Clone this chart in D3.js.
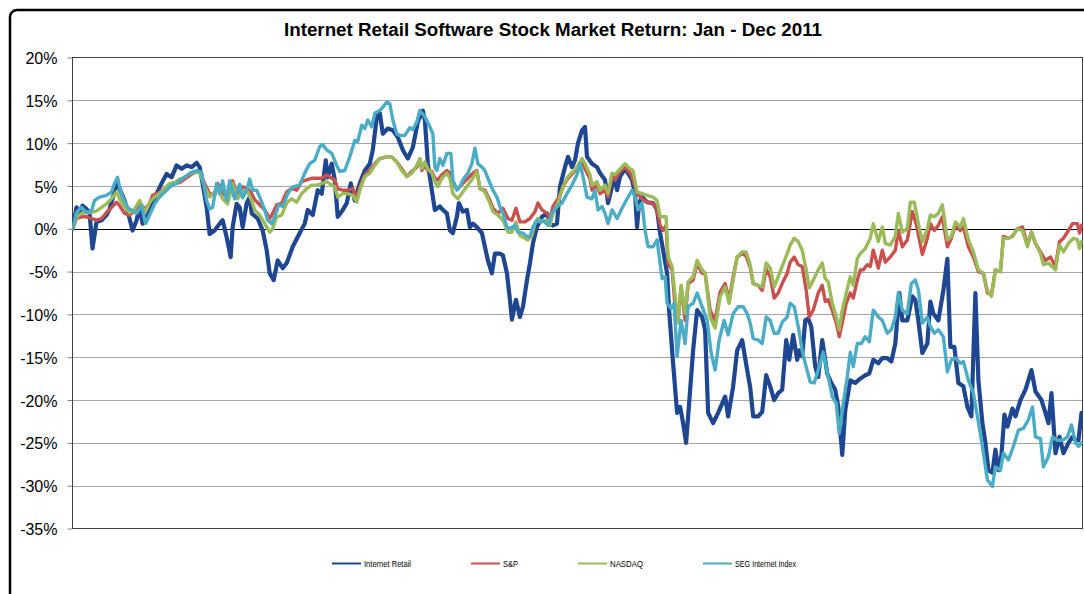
<!DOCTYPE html>
<html><head><meta charset="utf-8">
<script src="https://cdn.jsdelivr.net/npm/d3@7/dist/d3.min.js"></script>
<style>body{margin:0;background:#fff;}svg{display:block;font-family:Arial,"Liberation Sans",sans-serif;}</style>
</head><body>
<svg id="chart" width="1084" height="594"></svg>
<script>
// x = trading-session index in 2011, y = cumulative return in %
const internetRetail = [[0,0],[1,2.5],[1.75,1.9],[2.5,2.7],[3.5,2.3],[4.25,1.9],[5,-2.3],[6,0.8],[7.25,1.0],[8.5,1.6],[9.25,2.3],[10,3.5],[11,5.3],[11.75,4.7],[13,3.3],[13.75,2.1],[15,-0.2],[16,1.0],[16.75,2.5],[17.5,0.6],[18.5,1.4],[19.75,2.5],[21,4.1],[22.25,5.3],[23.5,6.4],[24.75,6.0],[26,7.4],[27.25,7.0],[28.5,7.4],[29.75,7.2],[31,7.7],[31.75,7.2],[32.5,5.3],[33.5,2.5],[34.25,-0.6],[35.5,-0.2],[36.75,0.6],[37.5,1.0],[38.5,-1.0],[39.5,-3.3],[40,0.2],[41,2.9],[41.75,2.5],[42.5,0.2],[43.5,3.0],[44.25,3.7],[44.75,1.8],[46.25,1.2],[47.5,-0.2],[48.5,-2.5],[49.25,-5.2],[50.25,-6.0],[51.25,-3.7],[52.5,-4.6],[53.5,-4.0],[55,-2.1],[56.75,-0.5],[58,0.6],[58.75,2.2],[60,1.6],[61.25,4.5],[62.25,4.1],[63.25,8.0],[63.75,6.0],[64.75,7.6],[65.5,5.7],[66.25,1.4],[67.5,2.2],[68.5,3.0],[69.5,5.3],[70.5,3.3],[71.75,5.3],[73,6.8],[74.25,7.6],[75,9.2],[76,13.0],[76.75,13.5],[77.5,11.1],[78.75,11.7],[80,11.5],[81.25,10.7],[82.5,9.2],[83.75,8.2],[85,9.5],[86.25,12.5],[87.5,13.8],[88,12.7],[88.75,7.6],[89.75,4.5],[90.5,2.2],[91.75,2.6],[92.5,2.2],[93.5,1.8],[94.25,-0.2],[95,-0.5],[96,1.4],[96.5,3.0],[97.5,2.0],[98.5,2.2],[99.25,0.2],[100,0.6],[101,0.2],[102.25,-0.5],[103,-2.1],[103.75,-3.7],[104.75,-5.2],[105.5,-2.9],[106.75,-2.9],[107.5,-3.1],[108.5,-5.2],[109.25,-8.3],[109.75,-10.6],[110.75,-8.3],[111.75,-10.3],[112.5,-9.1],[113.5,-6.0],[114.25,-4.0],[115,-1.7],[116,0.2],[117.25,1.4],[118.5,1.8],[119.25,0.6],[120,0.4],[121,0.6],[121.75,4.9],[123,7.2],[123.75,8.4],[124.75,7.2],[125.5,8.0],[126.25,10.0],[127.25,11.5],[128,11.9],[128.5,8.4],[129.75,7.6],[131,7.2],[131.75,6.5],[133,5.7],[133.75,3.0],[134.75,4.9],[135.5,6.1],[136,4.5],[136.75,6.1],[138,7.0],[138.75,6.5],[139.75,5.7],[140.5,4.1],[141,0.2],[141.5,3.0],[142.25,3.7],[143.5,3.1],[145,3.0],[146,2.2],[146.75,-0.5],[147.5,-2.5],[148.5,-5.2],[149,-9.5],[150,-15.7],[151,-21.5],[151.75,-20.8],[152.5,-22.7],[153.25,-25.0],[154,-20.4],[155,-14.2],[156,-9.5],[157.25,-10.3],[158,-11.8],[158.75,-21.5],[160,-22.7],[161.25,-21.5],[163,-19.6],[163.75,-21.9],[165,-18.4],[166,-14.2],[167.25,-13.0],[168.5,-16.5],[169.25,-18.5],[170,-21.9],[171.25,-21.9],[172.25,-21.4],[173.25,-17.1],[174.25,-18.4],[175.25,-20.0],[176.25,-19.2],[177.25,-18.8],[178.25,-13.0],[179,-15.3],[180,-12.4],[181,-15.3],[181.5,-14.2],[182.25,-14.9],[183,-10.7],[183.75,-10.5],[184.5,-11.4],[185.5,-16.1],[186.25,-17.3],[187.25,-13.0],[188.5,-16.9],[189.5,-18.0],[190.5,-18.8],[191.25,-20.8],[192.25,-26.4],[193,-21.2],[194.25,-17.7],[195.5,-18.0],[196.75,-17.5],[198,-17.1],[199,-16.9],[200,-15.3],[201.25,-15.7],[202.25,-15.1],[203.5,-15.1],[204.5,-15.5],[205.5,-13.4],[206.5,-7.5],[207.25,-10.7],[208.5,-10.7],[209.75,-7.9],[210.5,-8.3],[211.25,-10.7],[212.25,-14.5],[213.5,-13.4],[214.25,-8.5],[215,-9.9],[216.25,-10.7],[217.5,-7.2],[218.5,-3.5],[219.25,-13.8],[220.25,-13.8],[221.25,-18.0],[222.5,-18.4],[223.5,-20.8],[224.5,-21.9],[225.5,-7.5],[226.25,-17.7],[227.25,-22.7],[228,-25.0],[228.75,-28.2],[229.75,-28.5],[230.5,-25.8],[231.25,-28.2],[232,-26.5],[232.75,-21.7],[233.5,-23.1],[234.75,-21.0],[235.5,-21.9],[236.75,-20.0],[238,-18.8],[239.5,-16.5],[240.5,-19.0],[242,-20.0],[243,-21.5],[243.75,-22.7],[244.5,-19.2],[245.5,-26.2],[246.5,-24.3],[247.5,-26.2],[248.75,-25.0],[249.75,-24.3],[250.5,-24.7],[251.25,-24.7],[252,-21.5]];

const sp500 = [[0,0],[1,1.2],[2.25,1.4],[3.5,1.4],[4.75,1.2],[6,1.0],[7.25,1.2],[8.5,1.9],[9.75,2.5],[11,3.1],[11.75,2.7],[13,1.8],[14.25,1.6],[15.5,2.1],[16.75,3.1],[18,2.3],[19.25,2.9],[20,3.9],[21.25,4.1],[22.5,4.5],[24.25,4.9],[25.5,5.3],[26.75,5.4],[28,5.8],[29.25,6.2],[30.5,6.6],[31.75,6.6],[33,5.3],[34.25,4.1],[35.5,3.9],[36.25,5.3],[37.5,4.1],[38.75,3.7],[40,5.6],[41.25,3.9],[42.5,4.9],[43.75,4.7],[44.75,4.1],[45.5,3.4],[46.75,2.8],[48,2.2],[49.25,1.2],[50,1.8],[51,2.8],[52.25,3.0],[53.5,4.3],[54.75,4.7],[56,4.5],[57.25,5.5],[58.5,5.7],[59.75,5.9],[61,5.9],[62.25,5.9],[63.5,6.3],[64.75,5.9],[65.5,5.7],[66.25,4.7],[67.5,4.5],[68.75,4.5],[70,4.7],[71,3.5],[71.75,4.9],[73,6.3],[74.25,6.8],[75.5,7.6],[76.75,8.2],[78.5,8.4],[79.75,8.4],[81,7.8],[82.25,7.0],[83.5,6.1],[84.75,6.7],[86,7.2],[86.75,8.1],[87.25,6.8],[88,7.4],[88.75,6.8],[89.75,6.7],[90.5,5.9],[91.25,5.7],[92.25,6.3],[93.5,6.8],[94.25,6.5],[95,5.1],[96.25,4.7],[97.5,5.3],[98.75,5.9],[100,6.5],[101,6.8],[101.75,4.7],[103,4.5],[104.25,3.3],[105,2.4],[106.25,1.8],[107.5,2.4],[108.75,1.2],[109.75,1.0],[110.75,2.4],[111.75,0.8],[113,0.8],[114.25,1.2],[115.5,2.0],[116.25,3.0],[117.25,2.2],[118.5,1.8],[119.25,1.2],[120,2.6],[121.25,3.5],[122.5,4.9],[123.75,5.9],[125,6.5],[126.25,7.2],[127.25,7.8],[128,7.0],[129.25,5.8],[129.75,4.5],[131,5.1],[131.75,4.1],[133,4.5],[133.75,3.7],[134.75,6.1],[135.5,5.7],[136.75,6.7],[138,7.2],[139.25,6.5],[140,5.7],[141,4.1],[142.25,3.5],[143.5,3.1],[145,3.0],[146,2.2],[146.75,0.4],[147.5,-0.2],[148.25,0.4],[148.75,-4.1],[149.75,-4.8],[150.5,-9.1],[151.25,-10.7],[152,-6.8],[153,-10.7],[153.75,-6.4],[155,-6.0],[156,-4.1],[157.25,-5.2],[158,-5.2],[159.25,-9.5],[160.5,-10.7],[161.75,-7.4],[163,-6.4],[164,-8.3],[165,-5.6],[166,-3.3],[167.25,-2.9],[168.25,-3.2],[169.25,-4.5],[170,-6.4],[171.25,-6.6],[172.25,-7.2],[173.25,-4.7],[174.25,-5.6],[175.25,-8.1],[176.25,-7.5],[177.25,-6.4],[178.5,-5.2],[179.25,-3.9],[180.25,-3.3],[181.25,-4.2],[182.25,-4.4],[183.25,-7.2],[184,-10.3],[185,-9.5],[186.25,-7.5],[187.25,-6.6],[188,-8.5],[188.75,-8.3],[189.75,-9.5],[190.75,-11.0],[191.5,-12.6],[192.25,-11.0],[193.25,-8.7],[194.25,-7.5],[195,-8.1],[196,-6.0],[196.75,-4.8],[197.5,-4.8],[198.5,-4.2],[199.25,-4.4],[200,-2.5],[201.25,-4.6],[202.25,-2.5],[203,-3.9],[204.25,-3.3],[205.5,-2.5],[206.25,-0.2],[207.25,-2.1],[208.5,-1.3],[209.75,2.0],[210.75,0.5],[212.25,-3.0],[213.5,-1.1],[214.25,0.6],[215.25,-0.2],[216.25,0.4],[217.25,1.4],[218.5,-2.1],[219.5,-1.1],[220.5,0.4],[221.75,-0.2],[222.5,0.2],[223.75,-2.1],[225,-3.3],[226.25,-5.0],[227.5,-5.2],[228.5,-7.5],[229.5,-7.7],[230.5,-4.8],[231.75,-5.0],[232.5,-0.9],[233.75,-1.1],[234.75,-0.9],[236,0.0],[237.25,0.2],[238.5,-1.9],[239.5,-0.4],[240.5,-1.7],[241.75,-2.7],[243,-3.7],[244.25,-3.3],[245.5,-4.4],[246.5,-1.5],[247.5,-1.1],[248.75,-0.2],[249.75,0.6],[251,0.6],[251.5,-0.5],[252,0.4]];

const nasdaq = [[0,0],[1,1.4],[2.25,1.8],[3.5,1.9],[4.75,1.9],[6,2.1],[7.25,2.5],[8.5,2.9],[9.75,3.5],[11,4.3],[11.75,3.5],[13,2.5],[14.25,1.9],[15.5,2.3],[16.75,3.3],[18,1.9],[19.25,3.1],[20.5,3.7],[21.75,4.1],[23,4.7],[24.25,5.3],[25.5,5.4],[26.75,5.8],[28,6.0],[29.25,6.4],[30.5,6.6],[31.75,6.6],[33,4.9],[34.25,3.7],[35.5,4.3],[36.25,4.9],[37.5,3.5],[38.75,2.9],[40,5.3],[41.25,3.5],[42.5,4.5],[43.75,4.3],[44.75,3.3],[45.5,2.2],[46.75,1.6],[48,0.6],[49.25,-0.4],[50,0],[51,1.4],[52.25,1.6],[53.5,3.0],[54.75,3.5],[56,3.1],[57.25,4.1],[58.5,4.7],[59.75,5.1],[61,5.1],[62.25,5.3],[63.5,5.5],[64.75,5.1],[65.5,4.9],[66.25,3.7],[67.5,4.1],[68.75,4.1],[70,3.9],[71,3.1],[71.75,4.5],[73,6.1],[74.25,6.5],[75.5,7.4],[76.75,8.2],[78.5,8.4],[79.75,8.4],[81,7.8],[82.25,6.8],[83.5,6.1],[84.75,6.5],[86,7.4],[86.75,8.2],[87.25,7.0],[88,7.8],[88.75,7.0],[89.75,6.5],[90.5,5.5],[91.25,4.9],[92.25,5.9],[93.5,6.5],[94.25,5.9],[95,4.1],[96.25,3.5],[97.5,4.3],[98.75,5.1],[100,5.9],[101,6.7],[101.75,4.7],[103,4.3],[104.25,3.0],[105,2.0],[106.25,1.6],[107.5,1.0],[108.75,-0.4],[109.75,-0.4],[110.75,0.8],[111.75,-0.8],[113,-1.1],[113.75,-1.3],[114.75,-0.8],[115.5,0.6],[116.25,1.2],[117.25,0.8],[118.5,1.0],[119.25,0.4],[120,1.8],[121.25,3.0],[122.5,4.9],[123.75,6.1],[125,6.7],[126.25,7.4],[127.25,8.2],[128,7.6],[129.25,6.3],[129.75,5.1],[131,5.5],[131.75,4.5],[133,5.1],[133.75,4.1],[134.75,6.5],[135.5,6.3],[136.75,7.0],[138,7.6],[139.25,7.0],[140,6.8],[141,4.3],[142.25,4.1],[143.5,3.9],[145,3.7],[146,3.3],[146.75,1.4],[147.5,1.4],[148.25,1.4],[148.75,-3.3],[149.75,-4.4],[150.5,-7.9],[151.25,-11.0],[152,-6.6],[153,-9.9],[153.75,-6.2],[155,-5.6],[156,-3.7],[157.25,-4.8],[158,-5.2],[159.25,-10.3],[160.5,-11.6],[161.75,-7.9],[163,-6.8],[164,-8.7],[165,-6.0],[166,-3.3],[167.25,-2.7],[168.25,-2.7],[169.25,-4.2],[170,-6.4],[171.25,-6.6],[172.25,-6.8],[173.25,-4.0],[174.25,-4.6],[175.25,-6.8],[176.25,-5.6],[177.25,-4.4],[178.5,-2.9],[179.25,-1.9],[180.25,-1.1],[181.25,-1.5],[182.25,-2.5],[183.25,-4.8],[184,-6.9],[185,-6.0],[186.25,-4.8],[187.25,-4.0],[188,-5.8],[188.75,-6.2],[189.75,-8.7],[190.75,-10.3],[191.5,-11.8],[192.25,-9.5],[193.25,-7.5],[194.25,-5.6],[195,-6.6],[196,-3.5],[196.75,-2.9],[198,-2.3],[199.25,-1.1],[200,0.6],[201.25,-1.5],[202.25,0.2],[203,-1.7],[204.25,-1.9],[205.5,-0.9],[206.25,1.8],[207.25,-0.4],[208.5,0.0],[209.25,3.1],[210.25,3.1],[211.25,0.6],[212.25,-1.5],[213.5,0.0],[214.25,1.6],[215.25,1.4],[216.25,1.8],[217.25,2.8],[218.5,-1.3],[219.5,-0.9],[220.5,0.8],[221.75,0.2],[222.5,1.2],[223.75,-1.3],[225,-2.7],[226.25,-4.8],[227.5,-5.2],[228.5,-7.2],[229.5,-7.9],[230.5,-4.8],[231.75,-5.0],[232.5,-1.1],[233.75,-1.1],[234.75,-0.9],[236,0.0],[237.25,-0.2],[238.5,-2.1],[239.5,-0.4],[240.5,-1.7],[241.75,-2.9],[242.5,-4.2],[243.75,-4.0],[245.5,-4.8],[246.5,-1.9],[247.5,-2.7],[248.75,-1.7],[250,-1.1],[251,-1.3],[251.5,-2.3],[252,-1.5]];

const segIndex = [[0,0],[1,1.9],[2.25,2.5],[3.5,1.9],[4.75,2.1],[5.5,3.3],[6.75,3.7],[8.5,3.9],[9.75,4.3],[10.5,5.3],[11.25,6.0],[11.75,4.9],[12.5,3.7],[13.75,2.5],[15,2.1],[16,1.8],[17.25,2.7],[18.25,0.6],[19.25,1.6],[20.5,2.9],[21.75,3.7],[23.5,4.5],[24.75,5.1],[26,5.3],[27.25,5.8],[28.5,6.2],[29.75,6.6],[31,6.8],[32.25,6.6],[33.5,3.3],[34.25,2.3],[35,2.5],[36,5.3],[36.75,4.1],[37.5,5.6],[38.5,3.3],[39.25,5.6],[40.5,3.5],[41.75,5.2],[42.5,3.6],[43.5,4.5],[44.25,5.8],[45,4.5],[46,4.5],[46.75,3.7],[48,2.2],[48.75,1.0],[49.75,0.6],[50.5,1.4],[51.5,2.8],[52.5,2.6],[53.75,4.1],[55,4.9],[56.75,5.1],[58,6.5],[59.25,7.6],[60.5,8.0],[61.75,9.6],[62.5,9.8],[63.5,9.2],[64.75,8.8],[66,7.4],[66.75,6.7],[68,6.8],[69.25,8.4],[70.5,10.3],[71.25,10.2],[72.25,12.1],[73,11.7],[73.75,12.7],[74.75,11.9],[75.5,13.5],[76.75,13.8],[77.5,14.2],[78.5,14.8],[79.25,14.6],[80,12.7],[81,11.1],[81.75,10.9],[83,10.9],[84.25,11.8],[85,11.6],[86,12.5],[86.75,13.8],[88,13.1],[89.25,11.9],[90,11.1],[90.5,7.2],[91,6.8],[91.75,8.2],[92.5,7.4],[93.5,8.8],[94.5,8.8],[95,5.7],[96,4.5],[96.75,4.9],[97.5,5.7],[98.75,6.5],[99.75,7.6],[100.5,9.4],[101.25,7.6],[102.25,7.2],[103,6.8],[103.75,5.9],[105,4.5],[106,3.7],[106.75,2.6],[107.5,1.8],[108.5,0.2],[109.25,0],[110.5,0.4],[111.25,-0.4],[112.5,-0.5],[113.5,-0.9],[114.25,-0.9],[115,0.2],[116,1.0],[116.75,0.8],[117.5,1.0],[118.75,0.4],[119.75,1.8],[121,2.6],[122.25,3.0],[123.5,4.1],[124.75,5.1],[126,6.3],[126.75,7.6],[127.5,6.1],[128.5,3.7],[129.75,3.5],[130.5,4.5],[131.25,2.2],[132.25,2.6],[133,1.8],[133.75,0.6],[134.75,2.2],[136,1.2],[137.25,2.4],[138.5,3.5],[139.75,4.5],[140.5,3.7],[141.25,2.2],[142.25,3.0],[143,-0.2],[143.75,-2.1],[145,-2.1],[146,-1.3],[147.25,-5.8],[148,-5.6],[148.5,-8.7],[149.5,-9.3],[150.25,-8.7],[151,-14.9],[152,-10.7],[153,-13.4],[153.75,-9.1],[155,-8.7],[156,-7.5],[157.25,-9.1],[158.5,-10.7],[159.5,-14.5],[160.5,-16.5],[161.5,-13.0],[162.75,-10.7],[163.75,-12.4],[165,-9.9],[166.25,-9.1],[167.5,-9.1],[168.5,-9.9],[169.25,-11.0],[170,-12.8],[171.25,-13.0],[172.25,-13.4],[173.25,-10.3],[174.25,-10.7],[175.25,-12.2],[176.25,-12.2],[177.25,-10.9],[178.5,-10.3],[179.25,-8.7],[180.25,-9.1],[181.25,-11.4],[182.25,-14.2],[183,-15.7],[184.25,-17.9],[185.25,-18.0],[186.25,-16.5],[187.5,-14.4],[188.75,-17.3],[189.75,-19.6],[190.75,-20.4],[191.5,-23.9],[192.5,-20.4],[193.5,-17.3],[194.25,-14.4],[195,-16.1],[196,-13.4],[197,-13.4],[198,-12.6],[199,-13.2],[200,-9.5],[201.25,-10.3],[202.25,-10.7],[203.5,-12.2],[204.5,-11.8],[205.5,-10.3],[206.25,-7.5],[207.25,-9.5],[208.5,-9.9],[209.5,-6.4],[210.5,-6.0],[211.25,-7.1],[212.25,-11.0],[213.5,-10.3],[214.25,-11.4],[215.25,-12.2],[216.25,-11.8],[217.5,-12.6],[218.5,-16.7],[219.5,-15.3],[220.5,-15.1],[221.75,-15.7],[222.5,-15.5],[223.75,-17.7],[225,-19.2],[226,-21.9],[227.25,-25.4],[228.5,-29.3],[229.75,-30.1],[230.5,-27.8],[231.75,-28.2],[232.5,-26.2],[233.75,-27.0],[235,-25.4],[236.25,-23.5],[237.5,-23.3],[238.75,-22.3],[239.75,-20.8],[240.5,-24.3],[241.75,-24.5],[242.5,-27.8],[243.75,-26.6],[244.75,-24.3],[246,-24.7],[247.25,-24.7],[248.5,-24.3],[249.5,-22.9],[250.5,-25.0],[251.25,-25.4],[252,-25.0]];

const seriesNames = ["Internet Retail", "S&P", "NASDAQ", "SEG Internet Index"];
const seriesColors = ["#1F4690", "#C9504D", "#9BBB59", "#4BACC6"];
const yTicks = [20, 15, 10, 5, 0, -5, -10, -15, -20, -25, -30, -35];
const titleText = "Internet Retail Software Stock Market Return: Jan - Dec 2011";

(function () {
  const seriesData = [internetRetail, sp500, nasdaq, segIndex];
  const svg = d3.select("#chart");

  // outer chart frame
  svg.append("rect").attr("x", 10).attr("y", 10).attr("width", 1200).attr("height", 700)
    .attr("rx", 7).attr("fill", "#fff").attr("stroke", "#000").attr("stroke-width", 2.5);

  const pL = 72.5, pR = 1082.5, pT = 57.5, pB = 528.5;
  const x = d3.scaleLinear().domain([0, 252]).range([pL, pR - 1]);
  const y = d3.scaleLinear().domain([-35, 20]).range([pB, pT]);

  // title
  svg.append("text").attr("x", 553).attr("y", 36).attr("text-anchor", "middle")
    .attr("font-weight", "bold").attr("font-size", 17.5)
    .attr("textLength", 538).attr("lengthAdjust", "spacingAndGlyphs")
    .text(titleText);

  // gridlines
  svg.append("g").selectAll("line").data(yTicks.filter(d => d !== 0 && d !== 20 && d !== -35)).join("line")
    .attr("x1", pL).attr("x2", pR).attr("y1", d => Math.round(y(d)) + 0.5).attr("y2", d => Math.round(y(d)) + 0.5)
    .attr("stroke", "#A6A6A6").attr("stroke-width", 1);

  // y axis
  const yAxis = d3.axisLeft(y).tickValues(yTicks).tickFormat(d => d + "%").tickSize(5).tickPadding(10);
  const ag = svg.append("g").attr("transform", `translate(${pL},0)`).call(yAxis);
  ag.select(".domain").remove();
  ag.selectAll(".tick line").attr("stroke", "#808080");
  ag.selectAll(".tick text").attr("font-size", 16).attr("fill", "#000")
    .attr("font-family", "Arial, 'Liberation Sans', sans-serif").attr("dy", "0.38em");

  // plot border
  svg.append("rect").attr("x", pL).attr("y", pT).attr("width", pR - pL).attr("height", pB - pT)
    .attr("fill", "none").attr("stroke", "#404040").attr("stroke-width", 1);
  // zero line
  svg.append("line").attr("x1", pL).attr("x2", pR).attr("y1", Math.round(y(0)) + 0.5).attr("y2", Math.round(y(0)) + 0.5)
    .attr("stroke", "#000").attr("stroke-width", 1.2);

  // lines
  const line = d3.line().x(d => x(d[0])).y(d => y(d[1]));
  svg.append("defs").append("clipPath").attr("id", "clip")
    .append("rect").attr("x", pL).attr("y", pT - 10).attr("width", pR - pL).attr("height", pB - pT + 20);
  const lg = svg.append("g").attr("clip-path", "url(#clip)");
  seriesData.forEach((s, i) => {
    lg.append("path").datum(s).attr("d", line).attr("fill", "none")
      .attr("stroke", seriesColors[i]).attr("stroke-width", i === 0 ? 4.2 : 3.4)
      .attr("stroke-linejoin", "round").attr("stroke-linecap", "round");
  });

  // legend
  const legendX = [332, 471, 578, 703];
  const legendW = [47, 15, 33, 61];
  const leg = svg.append("g");
  seriesNames.forEach((n, i) => {
    leg.append("line").attr("x1", legendX[i]).attr("x2", legendX[i] + 29).attr("y1", 563.5).attr("y2", 563.5)
      .attr("stroke", seriesColors[i]).attr("stroke-width", 2);
    leg.append("text").attr("x", legendX[i] + 32).attr("y", 566.5).attr("font-size", 8.5)
      .attr("textLength", legendW[i]).attr("lengthAdjust", "spacingAndGlyphs").attr("fill", "#000").text(n);
  });
})();
</script>
</body></html>
